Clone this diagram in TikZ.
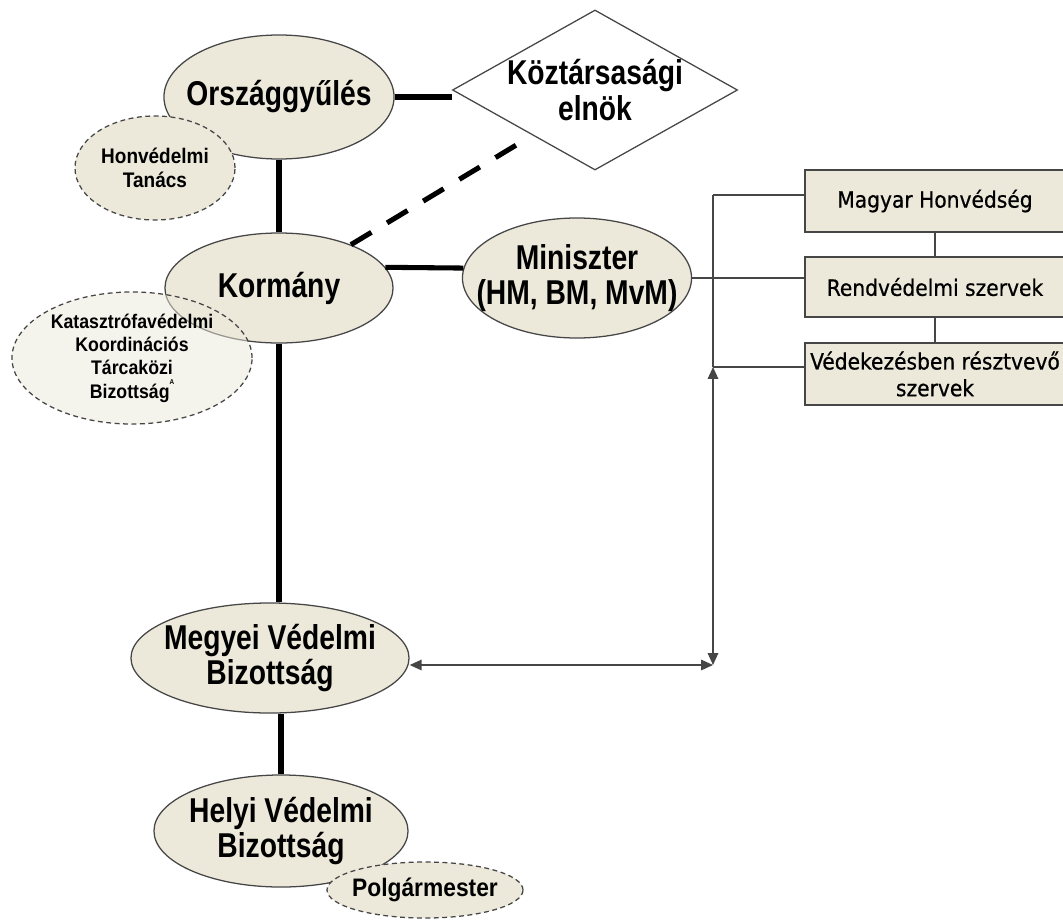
\documentclass[tikz,border=0pt]{standalone}
\usepackage{fontspec}
\setmainfont{Liberation Sans}
\newfontfamily\bigfont{Liberation Sans}[FakeStretch=0.82]
\newfontfamily\auxfont{Liberation Sans}[FakeStretch=0.9]
\newfontfamily\boxfont{DejaVu Sans Condensed}[FakeBold=0.6]
\usetikzlibrary{shapes.geometric,arrows.meta}
\definecolor{ellfill}{RGB}{236,233,218}
\definecolor{edge}{RGB}{70,70,70}

\begin{document}
\begin{tikzpicture}[x=0.025cm,y=-0.025cm,
  body/.style={ellipse,draw=edge,line width=0.9pt,fill=ellfill,inner sep=0pt},
  aux/.style={ellipse,draw=edge,line width=0.9pt,dash pattern=on 3.5pt off 2.5pt,fill=ellfill,inner sep=0pt},
  btxt/.style={align=center,inner sep=0pt,font=\bigfont\bfseries\fontsize{24.5}{25}\selectfont},
  atxt/.style={align=center,inner sep=0pt,font=\auxfont\bfseries\fontsize{15}{17}\selectfont},
  unit/.style={rectangle,draw=edge,line width=0.9pt,fill=ellfill,minimum width=6.5cm,
    minimum height=1.55cm,inner sep=0pt,align=center,font=\boxfont\fontsize{16}{19}\selectfont},
  heavy/.style={line width=3.6pt},
  thin/.style={draw=edge,line width=1pt},
  tips/.style={{Triangle[length=8.5pt,width=7.5pt]}-{Triangle[length=8.5pt,width=7.5pt]}}
]
\useasboundingbox (0,0) rectangle (1063,919);

\node[body,minimum width=5.75cm,minimum height=3.1cm,label={[btxt]center:Országgyűlés}] (ors) at (279,97) {};
\node[aux,minimum width=4cm,minimum height=2.6cm,label={[atxt]center:Honvédelmi\\Tanács}] (hon) at (155,168) {};
\node[diamond,draw=edge,line width=0.9pt,fill=white,aspect=1.78,inner sep=0pt,
  minimum width=7.125cm,minimum height=4cm,label={[btxt]center:Köztársasági\\elnök}] (kz) at (595,90) {};

\node[body,minimum width=5.7cm,minimum height=2.75cm,label={[btxt]center:Kormány}] (korm) at (279,288) {};
\node[aux,minimum width=6cm,minimum height=3.3cm,fill opacity=0.5,
  label={[atxt,font=\auxfont\bfseries\fontsize{14}{16.6}\selectfont]center:{Katasztrófavédelmi\\Koordinációs\\Tárcaközi\\Bizottság\raisebox{1.3ex}{\fontsize{5}{5}\selectfont A}}}] (kat) at (132,358) {};
\node[body,minimum width=5.725cm,minimum height=3cm,label={[btxt]center:{Miniszter\\(HM, BM, MvM)}}] (min) at (577,278) {};

\node[unit] (mag) at (935,201) {Magyar Honvédség};
\node[unit,minimum height=1.5cm] (rend) at (935,287) {Rendvédelmi szervek};
\node[unit] (ved) at (935,374) {Védekezésben résztvevő\\szervek};

\node[body,minimum width=6.95cm,minimum height=2.75cm,label={[btxt]center:Megyei Védelmi\\Bizottság}] (meg) at (270,658) {};
\node[body,minimum width=6.35cm,minimum height=2.8cm,label={[btxt]center:Helyi Védelmi\\Bizottság}] (hel) at (281,831) {};
\node[aux,minimum width=4.9cm,minimum height=1.4cm,
  label={[atxt,font=\auxfont\bfseries\fontsize{18}{20}\selectfont]center:Polgármester}] (pol) at (425,890) {};

\coordinate (jt) at (713,195);
\coordinate (jm) at (713,367);
\coordinate (jb) at (713,665);
\coordinate (dend) at (518,144);

\draw[heavy] (ors.east) -- (ors.east -| kz.west);
\draw[heavy] (ors.south) -- (korm.north);
\draw[heavy,dash pattern=on 17pt off 13pt] (korm) -- (dend);
\draw[heavy] (korm.11) -- (min.175);
\draw[heavy] (korm.south) -- (korm.south |- meg.north);
\draw[heavy] (hel.north |- meg.south) -- (hel.north);

\draw[thin] (min.east) -- (min.east -| rend.west);
\draw[thin] (jt) -- (jt -| mag.west);
\draw[thin] (jm) -- (jm -| ved.west);
\draw[thin] (jt) -- (jm);
\draw[thin,tips] (jm) -- (jb);
\draw[thin,tips] (meg.east |- jb) -- (jb);
\draw[thin] (mag) -- (rend);
\draw[thin] (rend) -- (ved);

\end{tikzpicture}
\end{document}
